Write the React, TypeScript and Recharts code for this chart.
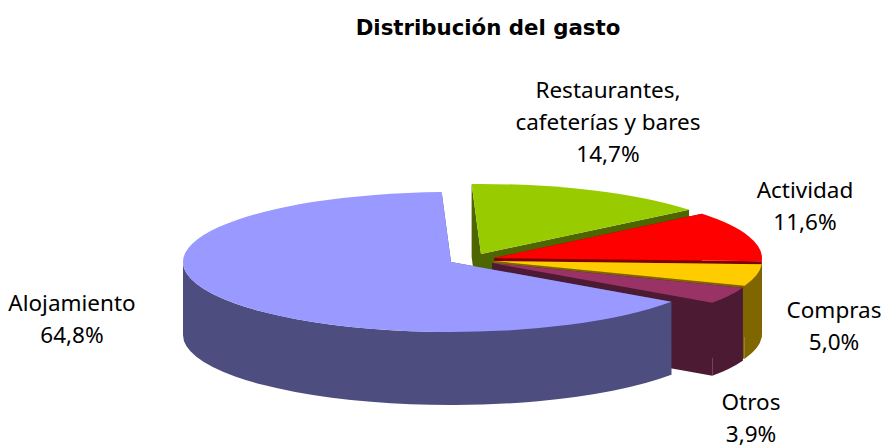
import React from 'react'
import { PieChart, Pie } from 'recharts'

const CATEGORIES = ['Restaurantes, cafeterías y bares', 'Actividad', 'Compras', 'Otros', 'Alojamiento']
const SHARES = [14.7, 11.6, 5.0, 3.9, 64.8]
const TOP_COLORS = ['#99CC00', '#FF0000', '#FFCC00', '#993366', '#9999FF']
const WALL_COLORS = ['#4D6600', '#800000', '#806600', '#4D1A33', '#4D4D80']

const LABEL_LINES = [['Restaurantes,', 'cafeterías y bares'], ['Actividad'], ['Compras'], ['Otros'], ['Alojamiento']]

// layout of the fake 3D pie
const CX = 485
const CY = 260
const RADIUS = 268
const SQUASH = 70 / 268
const DEPTH = 73
const FONT = '"Noto Sans", sans-serif'
const TITLE_FONT = '"DejaVu Sans", sans-serif'
const SLICE_SHIFT = [[-4, -6], [9, -2], [9, 1], [7, 3], [-34, 2]]
const LABEL_AT = [[608, 98], [805, 198], [834, 318], [751, 410], [72, 311]]

const pieData = CATEGORIES.map((name, i) => ({ name, value: SHARES[i] }))

const pointAt = (cx: number, cy: number, r: number, deg: number) => {
  const a = (deg * Math.PI) / 180
  return [cx + r * Math.cos(a), cy - r * SQUASH * Math.sin(a)]
}

const TopShape = (props: any) => {
  const i = CATEGORIES.indexOf(props.name)
  const cx = props.cx + SLICE_SHIFT[i][0]
  const cy = props.cy + SLICE_SHIFT[i][1]
  const r = props.outerRadius
  const [x0, y0] = pointAt(cx, cy, r, props.startAngle)
  const [x1, y1] = pointAt(cx, cy, r, props.endAngle)
  const large = props.startAngle - props.endAngle > 180 ? 1 : 0
  return <path d={`M${cx},${cy}L${x0},${y0}A${r},${r * SQUASH} 0 ${large} 1 ${x1},${y1}Z`} fill={TOP_COLORS[i]} />
}

const WallShape = (props: any) => {
  const i = CATEGORIES.indexOf(props.name)
  const cx = props.cx + SLICE_SHIFT[i][0]
  const cy = props.cy + SLICE_SHIFT[i][1]
  const r = props.outerRadius
  const [x0, y0] = pointAt(cx, cy, r, props.startAngle)
  const [x1, y1] = pointAt(cx, cy, r, props.endAngle)
  const fill = WALL_COLORS[i]
  const hi = Math.min(props.startAngle, 0)
  const lo = Math.max(props.endAngle, -180)
  let rim = ''
  if (hi > lo) {
    const [ax, ay] = pointAt(cx, cy, r, hi)
    const [bx, by] = pointAt(cx, cy, r, lo)
    rim = `M${ax},${ay}A${r},${r * SQUASH} 0 0 1 ${bx},${by}L${bx},${by + DEPTH}A${r},${r * SQUASH} 0 0 0 ${ax},${ay + DEPTH}Z`
  }
  return (
    <g>
      <path d={`M${cx},${cy}L${x0},${y0}L${x0},${y0 + DEPTH}L${cx},${cy + DEPTH}Z`} fill={fill} />
      <path d={`M${cx},${cy}L${x1},${y1}L${x1},${y1 + DEPTH}L${cx},${cy + DEPTH}Z`} fill={fill} />
      {rim && <path d={rim} fill={fill} />}
    </g>
  )
}

const SliceLabel = (props: any) => {
  const i = CATEGORIES.indexOf(props.name)
  const [x, y] = LABEL_AT[i]
  const lines = [...LABEL_LINES[i], `${props.value.toFixed(1).replace('.', ',')}%`]
  return (
    <text x={x} y={y} textAnchor="middle" fontFamily={FONT} fontSize={22.5} fill="#000">
      {lines.map((line, n) => (
        <tspan key={n} x={x} y={y + n * 32}>{line}</tspan>
      ))}
    </text>
  )
}

export default function App() {
  return (
    <div style={{ position: 'absolute', left: 0, top: 0, width: 882, height: 446, background: '#fff' }}>
      <PieChart width={882} height={446} margin={{ top: 0, right: 0, bottom: 0, left: 0 }}>
        <text x={488} y={35} textAnchor="middle" fontFamily={TITLE_FONT} fontSize={21.3} fontWeight="bold" fill="#000">
          Distribución del gasto
        </text>
        <Pie
          data={pieData}
          dataKey="value"
          nameKey="name"
          cx={CX}
          cy={CY}
          outerRadius={RADIUS}
          startAngle={92}
          endAngle={-268}
          shape={WallShape}
          stroke="none"
          isAnimationActive={false}
        />
        <Pie
          data={pieData}
          dataKey="value"
          nameKey="name"
          cx={CX}
          cy={CY}
          outerRadius={RADIUS}
          startAngle={92}
          endAngle={-268}
          shape={TopShape}
          stroke="none"
          label={SliceLabel}
          labelLine={false}
          isAnimationActive={false}
        />
      </PieChart>
    </div>
  )
}
